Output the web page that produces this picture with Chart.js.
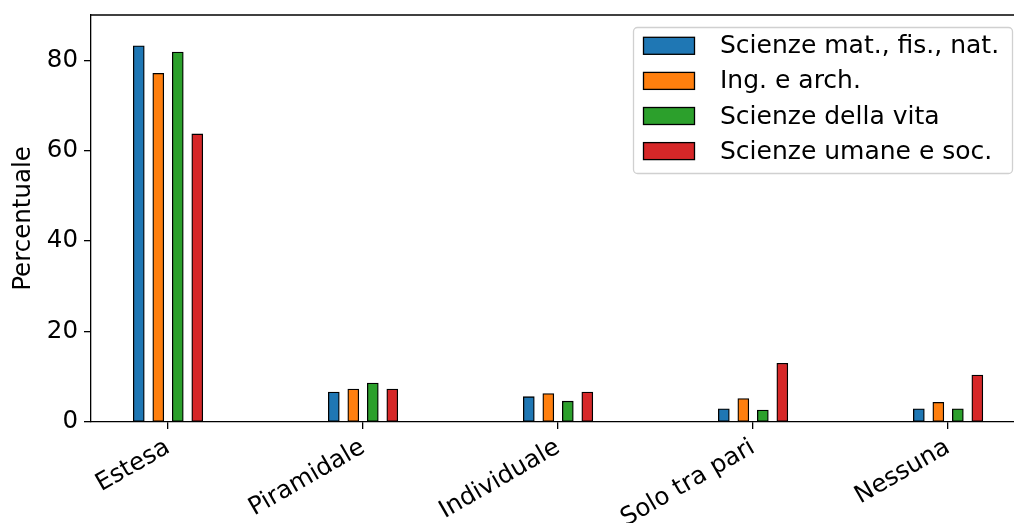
<!DOCTYPE html>
<html>
<head>
<meta charset="utf-8">
<script src="https://cdn.jsdelivr.net/npm/chart.js@4/dist/chart.umd.min.js"></script>
<style>
  html, body { margin: 0; padding: 0; background: #fff; }
  #wrap { width: 1014px; height: 523px; position: relative; }
</style>
</head>
<body>
<div id="wrap"><canvas id="c"></canvas></div>
<script>
const categories = ['Estesa', 'Piramidale', 'Individuale', 'Solo tra pari', 'Nessuna'];
const seriesNames = ['Scienze mat., fis., nat.', 'Ing. e arch.', 'Scienze della vita', 'Scienze umane e soc.'];
const sciMatFisNat = [83.2, 6.6, 5.6, 2.9, 2.9];
const ingArch = [77.1, 7.3, 6.3, 5.2, 4.35];
const scienzeVita = [81.8, 8.6, 4.6, 2.65, 2.9];
const scienzeUmane = [63.7, 7.3, 6.6, 13.0, 10.4];
const yTicks = [0, 20, 40, 60, 80];
const colors = ['#1f77b4', '#ff7f0e', '#2ca02c', '#d62728'];

const allSeries = [sciMatFisNat, ingArch, scienzeVita, scienzeUmane];
const groupOffsets = [-0.15, -0.05, 0.05, 0.15];
const FONT = '"DejaVu Sans", sans-serif';
const FS = 24.5;
const LFS = 25;

const datasets = allSeries.map((vals, k) => ({
  label: seriesNames[k],
  data: vals.map((v, i) => ({ x: i + groupOffsets[k], y: v })),
  backgroundColor: colors[k],
  borderColor: '#000',
  borderWidth: 1.3,
  borderSkipped: false,
  barThickness: 11,
  grouped: false
}));

const framePlugin = {
  id: 'frame',
  afterDatasetsDraw(chart) {
    const { ctx, chartArea: a } = chart;
    ctx.save();
    ctx.strokeStyle = '#000';
    ctx.lineWidth = 1.3;
    ctx.beginPath();
    ctx.moveTo(a.left, a.top);
    ctx.lineTo(chart.width, a.top);
    ctx.stroke();
    ctx.restore();
  },
  afterDraw(chart) {
    const { ctx } = chart;
    const bx = 633, by = 27, bw = 379, bh = 146, r = 4;
    ctx.save();
    ctx.fillStyle = 'rgba(255,255,255,0.8)';
    ctx.strokeStyle = '#d0d0d0';
    ctx.lineWidth = 1.3;
    ctx.beginPath();
    ctx.roundRect(bx + 0.5, by + 0.5, bw, bh, r);
    ctx.fill();
    ctx.stroke();
    ctx.font = LFS + 'px ' + FONT;
    ctx.textBaseline = 'middle';
    ctx.textAlign = 'left';
    chart.data.datasets.forEach((ds, k) => {
      const cy = 45.8 + k * 35.1;
      ctx.fillStyle = ds.backgroundColor;
      ctx.fillRect(643.5, cy - 8.5, 51, 17);
      ctx.strokeStyle = '#000';
      ctx.lineWidth = 1.3;
      ctx.strokeRect(643.5, cy - 8.5, 51, 17);
      ctx.fillStyle = '#000';
      ctx.fillText(ds.label, 720, cy + 1);
    });
    ctx.restore();
  }
};

new Chart(document.getElementById('c'), {
  type: 'bar',
  data: { datasets },
  options: {
    responsive: true,
    maintainAspectRatio: false,
    animation: false,
    layout: { padding: { top: 15, right: 0, left: 0, bottom: 0 } },
    plugins: { legend: { display: false }, tooltip: { enabled: false } },
    scales: {
      x: {
        type: 'linear',
        offset: false,
        min: -0.395,
        max: 4.338,
        afterBuildTicks: (s) => { s.ticks = categories.map((c, i) => ({ value: i })); },
        afterFit: (s) => { s.height = 101; s.paddingLeft = 0; s.paddingRight = 0; },
        ticks: {
          callback: (v) => categories[v] ?? '',
          maxRotation: 30,
          minRotation: 30,
          autoSkip: false,
          color: '#000',
          font: { family: FONT, size: FS },
          padding: 4
        },
        grid: { offset: false, drawOnChartArea: false, drawTicks: true, tickLength: 7, color: '#000', lineWidth: 1.3 },
        border: { display: true, color: '#000', width: 1.3 }
      },
      y: {
        min: 0,
        max: 90,
        afterBuildTicks: (s) => { s.ticks = yTicks.map(v => ({ value: v })); },
        afterFit: (s) => { s.width = 91; s.paddingTop = 0; s.paddingBottom = 0; },
        ticks: {
          color: '#000',
          font: { family: FONT, size: FS },
          padding: 6
        },
        title: {
          display: true,
          text: 'Percentuale',
          color: '#000',
          font: { family: FONT, size: FS },
          padding: { top: 9, bottom: 0 }
        },
        grid: { drawOnChartArea: false, drawTicks: true, tickLength: 7, color: '#000', lineWidth: 1.3 },
        border: { display: true, color: '#000', width: 1.3 }
      }
    }
  },
  plugins: [framePlugin]
});
</script>
</body>
</html>
